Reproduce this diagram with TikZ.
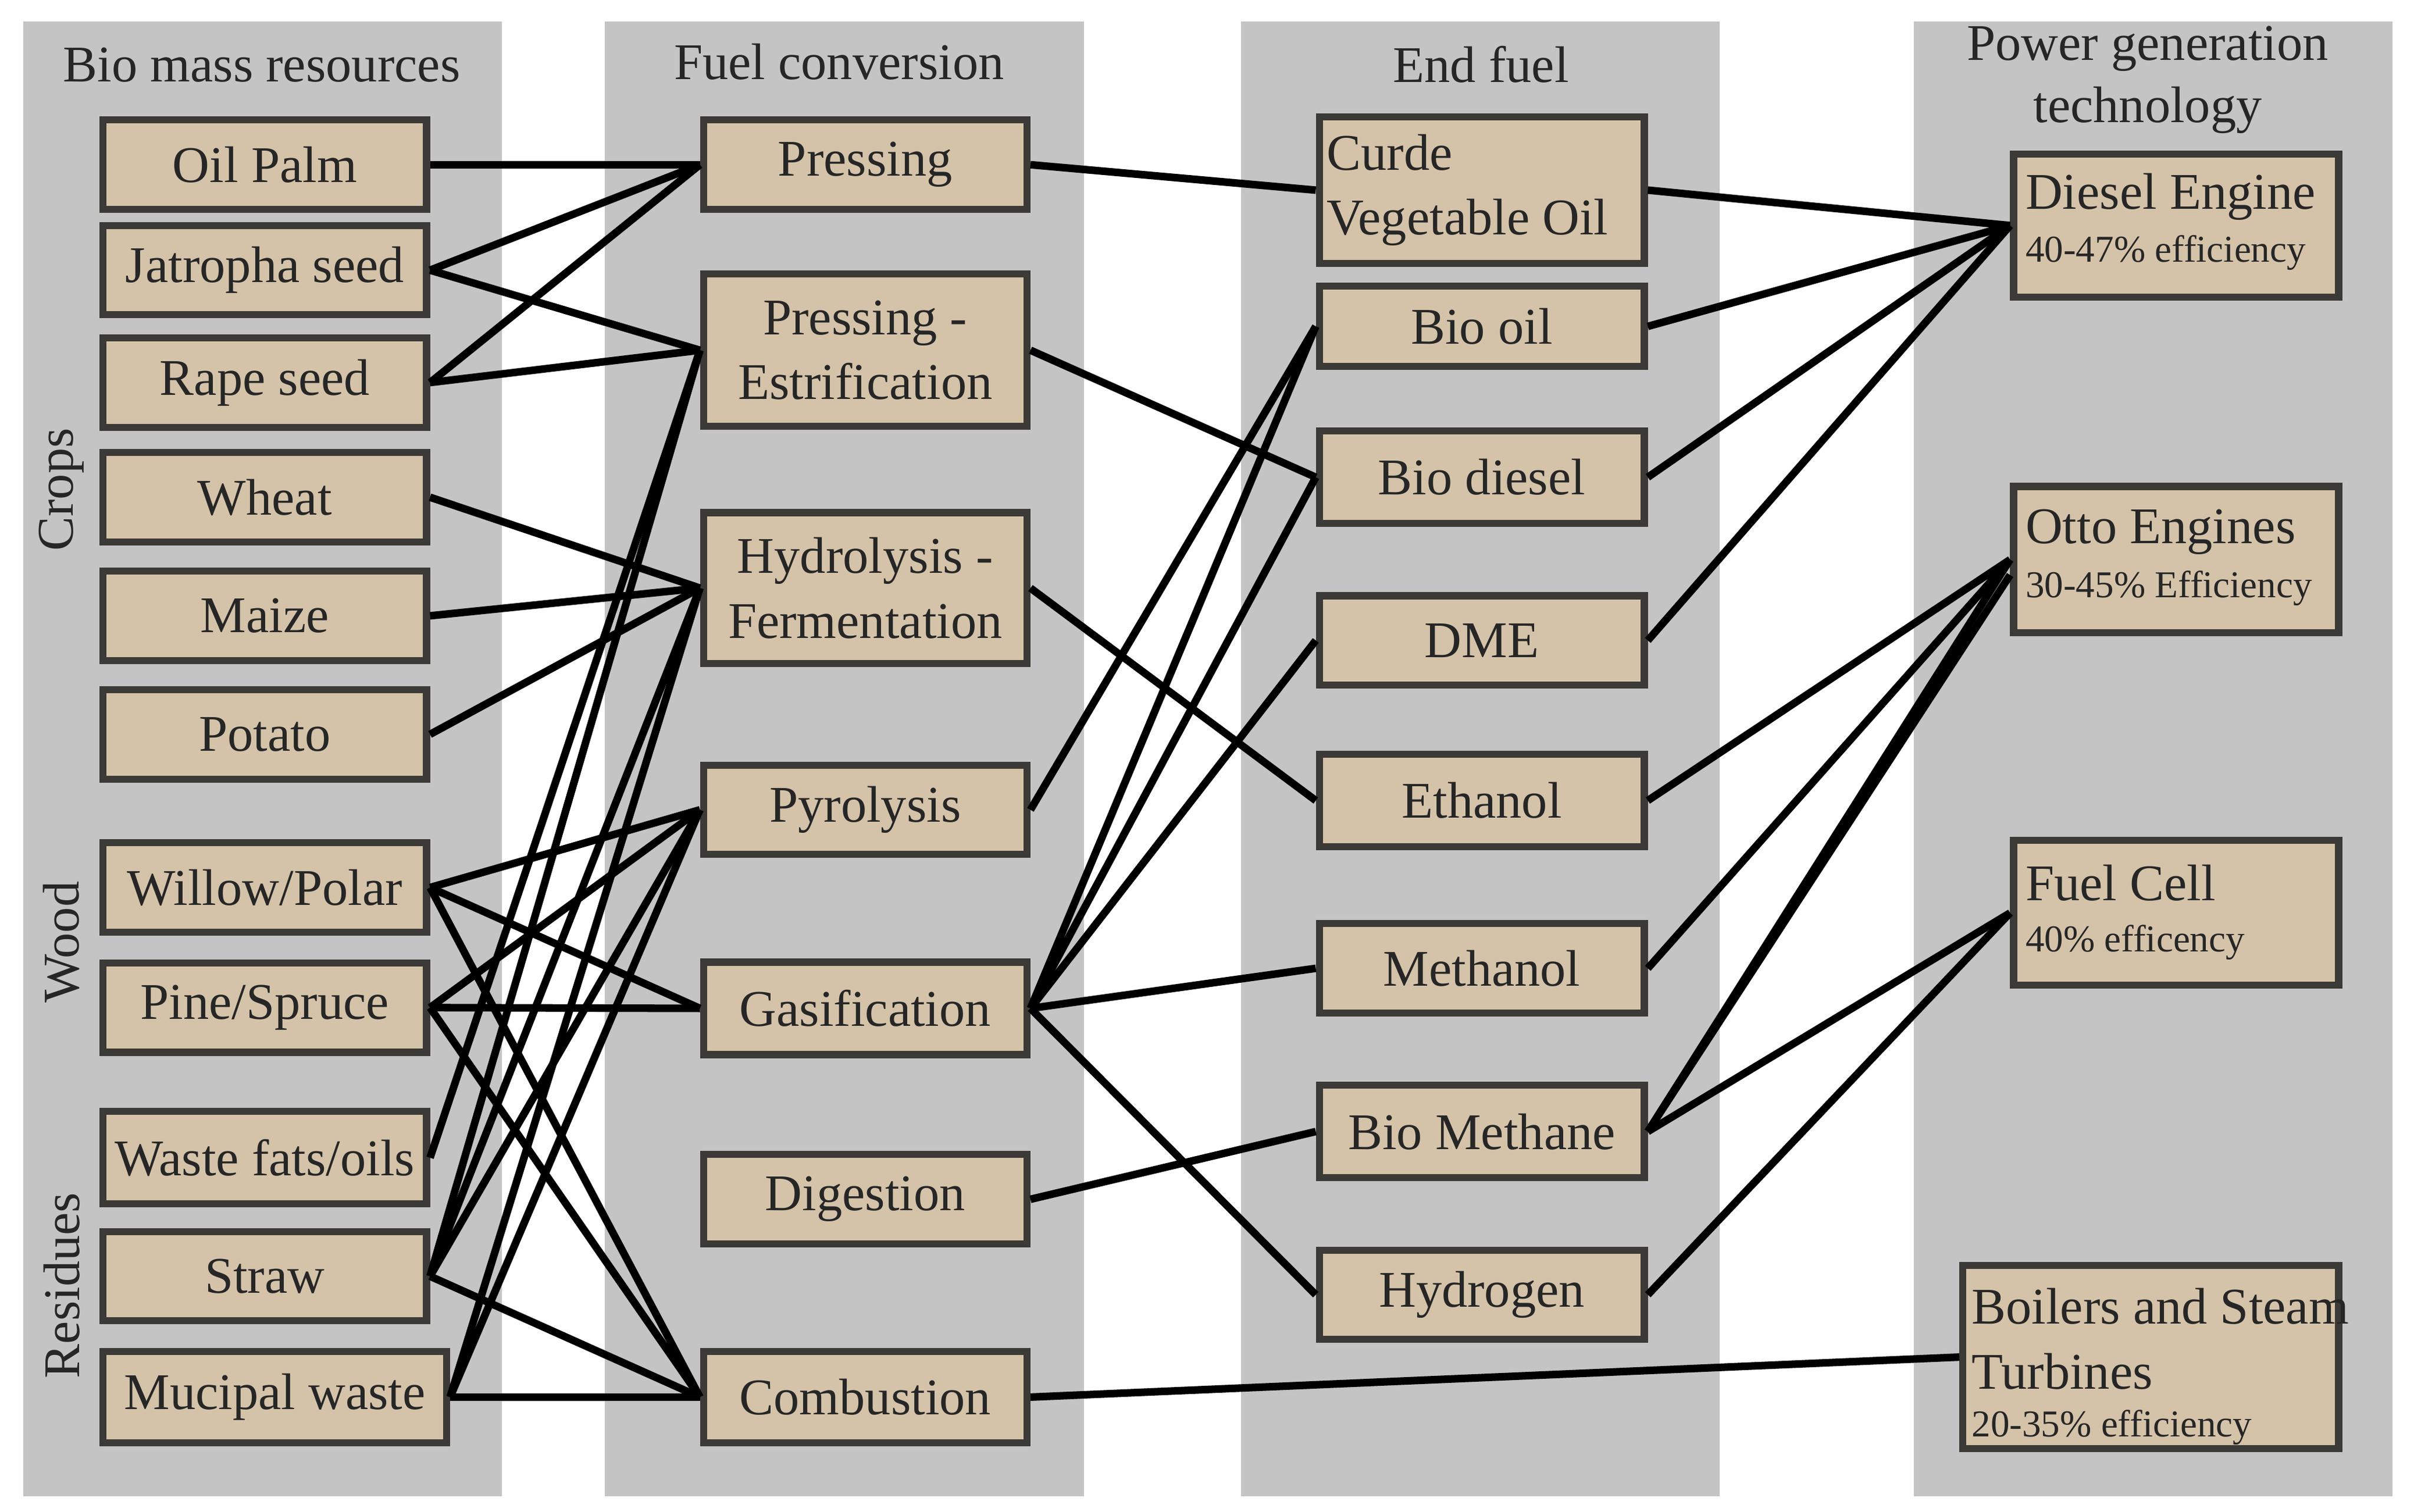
\documentclass[tikz,border=0pt]{standalone}
\usepackage{fontspec}
\setmainfont{Liberation Serif}
\begin{document}
\begin{tikzpicture}[x=0.01cm,y=-0.01cm,
  box/.style={draw=boxline,fill=tanf,line width=1.3pt,inner sep=0pt,align=center,font=\fontsize{9.5}{12}\selectfont,text=black!85},
  lb/.style={box,minimum width=2.1cm,minimum height=0.58cm},
  fb/.style={box,minimum width=2.1cm,minimum height=0.58cm},
  eb/.style={box,minimum width=2.11cm,minimum height=0.58cm},
  pb/.style={box,minimum width=2.11cm,minimum height=0.94cm},
  hd/.style={font=\fontsize{9.5}{11.5}\selectfont,text=black!85},
  pt/.style={font=\fontsize{9.5}{12}\selectfont,text=black!85,anchor=north west,inner sep=0pt,align=left},
  ef/.style={font=\fontsize{7}{9}\selectfont,text=black!85,anchor=north west,inner sep=0pt},
  cn/.style={line width=1.4pt,black}]
\definecolor{colg}{HTML}{C4C4C4}
\definecolor{tanf}{HTML}{D4C3A9}
\definecolor{boxline}{HTML}{3C3A36}
\useasboundingbox[fill=white] (0,0) rectangle (1568,982);
\fill[colg] (15,14) rectangle (326,972);
\fill[colg] (393,14) rectangle (704,972);
\fill[colg] (806,14) rectangle (1117,972);
\fill[colg] (1243,14) rectangle (1554,972);
% headers
\node[hd] (h1) at (170,42) {Bio mass resources};
\node[hd] (h2) at (545,40) {Fuel conversion};
\node[hd] (h3) at (962,42) {End fuel};
\node[hd,align=center] (h4) at (1395,52) {Power generation\\technology};
\node[hd,rotate=90] (s1) at (40,318) {Crops};
\node[hd,rotate=90] (s2) at (40,612) {Wood};
\node[hd,rotate=90] (s3) at (40,835) {Residues};
% left
\node[lb] (op) at (172,107) {Oil Palm};
\node[lb] (ja) at (172,175.5) {Jatropha seed};
\node[lb] (ra) at (172,248.5) {Rape seed};
\node[lb] (wh) at (172,323) {Wheat};
\node[lb] (ma) at (172,400) {Maize};
\node[lb] (po) at (172,477) {Potato};
\node[lb] (wi) at (172,576.5) {Willow/Polar};
\node[lb] (pi) at (172,654.5) {Pine/Spruce};
\node[lb,minimum height=0.6cm] (wf) at (172,752) {Waste fats/oils};
\node[lb] (st) at (172,829) {Straw};
\node[lb,minimum width=2.23cm,minimum height=0.59cm] (mu) at (178.5,907.5) {Mucipal waste};
% fuel conversion
\node[fb] (pr) at (562,107) {Pressing};
\node[fb,minimum height=0.99cm] (pe) at (562,227.5) {Pressing -\\Estrification};
\node[fb,minimum height=0.98cm] (hy) at (562,382) {Hydrolysis -\\Fermentation};
\node[fb] (py) at (562,526) {Pyrolysis};
\node[fb,minimum height=0.6cm] (ga) at (562,655) {Gasification};
\node[fb] (di) at (562,779) {Digestion};
\node[fb,minimum height=0.59cm] (co) at (562,907.5) {Combustion};
% end fuel
\node[eb,minimum height=0.95cm,align=left] (cv) at (962.5,123.5) {Curde\\Vegetable Oil\phantom{ii}};
\node[eb,minimum height=0.52cm] (bo) at (962.5,212) {Bio oil};
\node[eb,minimum height=0.6cm] (bd) at (962.5,310) {Bio diesel};
\node[eb] (dm) at (962.5,416) {DME};
\node[eb,minimum height=0.6cm] (et) at (962.5,520) {Ethanol};
\node[eb] (me) at (962.5,629) {Methanol};
\node[eb,minimum height=0.6cm] (bm) at (962.5,735) {Bio Methane};
\node[eb] (hg) at (962.5,841) {Hydrogen};
% power
\node[pb,minimum height=0.93cm] (de) at (1413.5,146.5) {};
\node[pt] (de1) at (1315,112) {Diesel Engine};
\node[ef] (de2) at (1315,152) {40-47\% efficiency};
\node[pb,minimum height=0.95cm] (ot) at (1413.5,363.5) {};
\node[pt] (ot1) at (1315,330) {Otto Engines};
\node[ef] (ot2) at (1315,370) {30-45\% Efficiency};
\node[pb] (fc) at (1413.5,593) {};
\node[pt] (fc1) at (1315,561) {Fuel Cell};
\node[ef] (fc2) at (1315,600) {40\% efficency};
\node[pb,minimum width=2.44cm,minimum height=1.19cm] (bs) at (1397,881.5) {};
\node[pt] (bs1) at (1280,836) {Boilers and Steam\\Turbines};
\node[ef] (bs2) at (1280,915) {20-35\% efficiency};
% connectors left -> fuel
\draw[cn] (op.east) -- (pr.west);
\draw[cn] (ja.east) -- (pr.west);
\draw[cn] (ja.east) -- (pe.west);
\draw[cn] (ra.east) -- (pr.west);
\draw[cn] (ra.east) -- (pe.west);
\draw[cn] (wh.east) -- (hy.west);
\draw[cn] (ma.east) -- (hy.west);
\draw[cn] (po.east) -- (hy.west);
\draw[cn] (wi.east) -- (py.west);
\draw[cn] (wi.east) -- (ga.west);
\draw[cn] (wi.east) -- (co.west);
\draw[cn] (pi.east) -- (py.west);
\draw[cn] (pi.east) -- (ga.west);
\draw[cn] (pi.east) -- (co.west);
\draw[cn] (wf.east) -- (pe.west);
\draw[cn] (st.east) -- (pe.west);
\draw[cn] (st.east) -- (hy.west);
\draw[cn] (st.east) -- (py.west);
\draw[cn] (st.east) -- (co.west);
\draw[cn] (mu.east) -- (hy.west);
\draw[cn] (mu.east) -- (py.west);
\draw[cn] (mu.east) -- (co.west);
% fuel -> end
\draw[cn] (pr.east) -- (cv.west);
\draw[cn] (pe.east) -- (bd.west);
\draw[cn] (hy.east) -- (et.west);
\draw[cn] (py.east) -- (bo.west);
\draw[cn] (ga.east) -- (bo.west);
\draw[cn] (ga.east) -- (bd.west);
\draw[cn] (ga.east) -- (dm.west);
\draw[cn] (ga.east) -- (me.west);
\draw[cn] (ga.east) -- (hg.west);
\draw[cn] (di.east) -- (bm.west);
% end -> power
\draw[cn] (cv.east) -- (de.west);
\draw[cn] (bo.east) -- (de.west);
\draw[cn] (bd.east) -- (de.west);
\draw[cn] (dm.east) -- (de.west);
\draw[cn] (et.east) -- (ot.west);
\draw[cn] (me.east) -- (ot.west);
\draw[cn] (bm.east) -- (ot.west);
\draw[cn] (bm.east) -- ([yshift=-0.1cm]ot.west);
\draw[cn] (bm.east) -- (fc.west);
\draw[cn] (hg.east) -- (fc.west);
\draw[cn] (co.east) -- (bs.west);
\end{tikzpicture}
\end{document}
